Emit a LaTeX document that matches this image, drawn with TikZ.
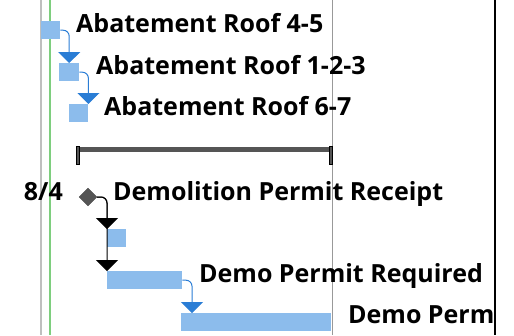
\documentclass[tikz,border=0pt]{standalone}
\usepackage{fontspec}
\setmainfont{Open Sans}
\usepackage{tikz}
\usetikzlibrary{arrows.meta}
\usetikzlibrary{shapes.geometric}
\definecolor{barblue}{HTML}{8CBCEC}
\definecolor{linkblue}{HTML}{2A7DD5}
\definecolor{sumgray}{HTML}{555555}
\tikzset{task/.style={draw=none, fill=barblue, anchor=north west, inner sep=0pt, minimum height=18pt},
  label/.style={anchor=base west, inner sep=0pt, font=\fontsize{25}{28}\selectfont\bfseries},
  link/.style={draw=linkblue, line width=1pt, rounded corners=6pt, -{Triangle[width=22pt,length=11pt]}},
  blink/.style={draw=black, line width=1pt, rounded corners=6pt, -{Triangle[width=22pt,length=11pt]}}}

\begin{document}
\begin{tikzpicture}[x=1pt,y=-1pt]
		\useasboundingbox (0,0) rectangle (514,335);
		% grid lines
		\draw[black!25, line width=1.2pt] (41,0) -- (41,335);
		\draw[green!45!gray!70, line width=1.6pt] (50,0) -- (50,335);
		\draw[black!40, line width=0.8pt] (332,0) -- (332,335);
		\draw[black, line width=1.4pt] (495,0) -- (495,335);
		% abatement tasks
		\node[task, minimum width=19pt] (ab45) at (41,21) {};
		\node[task, minimum width=20pt] (ab123) at (59,63) {};
		\node[task, minimum width=19pt] (ab67) at (69,104) {};
		\node[label] (l45) at (76,32) {Abatement Roof 4-5};
		\node[label] (l123) at (96,74) {Abatement Roof 1-2-3};
		\node[label] (l67) at (104,115) {Abatement Roof 6-7};
		\draw[link] (ab45.east) -| (ab123.north);
		\draw[link] (ab123.east) -| (ab67.north east);
		% summary
		\node[draw=none, fill=sumgray, anchor=north west, inner sep=0pt, minimum width=254pt, minimum height=5pt] (sum) at (77,147) {};
		\node[draw=black, fill=sumgray, inner sep=0pt, minimum width=3pt, minimum height=18pt] (sl) at (78,155.5) {};
		\node[draw=black, fill=sumgray, inner sep=0pt, minimum width=3pt, minimum height=18pt] (sr) at (331,155.5) {};
		% demolition permit
		\node[draw=black!70, fill=sumgray, diamond, shape aspect=1, inner sep=0pt, minimum size=18pt] (ms) at (88,197) {};
		\node[label, anchor=base east] (date) at (63,200) {8/4};
		\node[label] (lms) at (113,200) {Demolition Permit Receipt};
		\node[task, minimum width=19pt] (sb) at (107,229) {};
		\node[task, minimum width=75pt] (req) at (107,271) {};
		\node[label] (lreq) at (199,282) {Demo Permit Required};
		\node[task, minimum width=150pt] (dp) at (181,313) {};
		\node[label] (ldp) at (348,323) {Demo Perm};
		\coordinate (dpin) at (192,313);
		\draw[blink] (ms.east) -| (sb.north west);
		\draw[blink] (ms.east) -| (req.north west);
		\draw[link] (req.east) -| (dpin);
		\end{tikzpicture}
\end{document}
